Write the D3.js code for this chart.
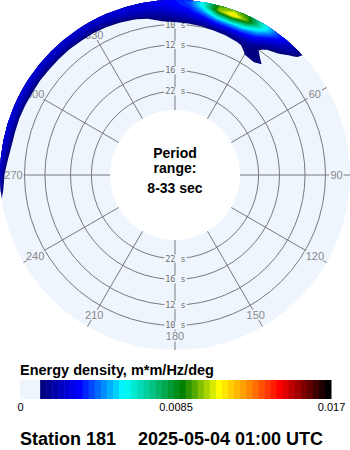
<!DOCTYPE html>
<html>
<head>
<meta charset="utf-8">
<script src="https://cdn.jsdelivr.net/npm/d3@7"></script>
<style>
  body { margin: 0; background: #fff; }
  text { font-family: "Liberation Sans", Arial, sans-serif; }
</style>
</head>
<body>
<div id="chart"></div>
<script>
// directions (deg, coming from) and frequencies (Hz) of the spectrum grid
const dirs = [250, 255, 260, 265, 270, 275, 280, 285, 290, 295, 300, 305, 310, 315, 320, 325, 330, 335,
              340, 345, 350, 355, 0, 5, 10, 15, 20, 25, 30, 35, 40, 45, 50, 55, 60];
const freqs = [0.120, 0.116, 0.112, 0.108, 0.104, 0.100, 0.096, 0.092, 0.088, 0.084];

// energy density, in 1e-4 m*m/Hz/deg, one row per frequency (same order as freqs)
const energy = [
  [0, 0, 6, 18, 24, 26, 27, 28, 28, 27, 27, 26, 26, 25, 25, 25, 25, 25, 26, 27, 28, 30, 34, 40, 65, 95, 100, 90, 66, 44, 28, 16, 2, 0, 0],
  [0, 0, 0, 5, 10, 16, 20, 21, 22, 22, 22, 22, 22, 22, 22, 22, 22, 23, 24, 25, 26, 28, 32, 38, 60, 100, 114, 96, 64, 40, 24, 14, 0, 0, 0],
  [0, 0, 0, 0, 2, 5, 9, 10, 10, 11, 12, 12, 13, 13, 13, 14, 14, 15, 17, 19, 21, 23, 28, 32, 46, 70, 78, 70, 50, 30, 18, 8, 0, 0, 0],
  [0, 0, 0, 0, 0, 0, 0, 0, 0, 1, 2, 2, 3, 3, 4, 4, 5, 6, 8, 10, 14, 17, 21, 25, 32, 44, 48, 46, 36, 21, 13, 3, 0, 0, 0],
  [0, 0, 0, 0, 0, 0, 0, 0, 0, 0, 0, 0, 0, 0, 0, 0, 0, 0, 0, 1, 5, 13, 15, 17, 21, 27, 29, 29, 26, 13, 5, 0, 0, 0, 0],
  [0, 0, 0, 0, 0, 0, 0, 0, 0, 0, 0, 0, 0, 0, 0, 0, 0, 0, 0, 0, 0, 4, 7, 8, 10, 13, 15, 17, 17, 9, 2, 0, 0, 0, 0],
  [0, 0, 0, 0, 0, 0, 0, 0, 0, 0, 0, 0, 0, 0, 0, 0, 0, 0, 0, 0, 0, 0, 0, 0, 2, 3, 5, 9, 14, 12, 4, 0, 0, 0, 0],
  [0, 0, 0, 0, 0, 0, 0, 0, 0, 0, 0, 0, 0, 0, 0, 0, 0, 0, 0, 0, 0, 0, 0, 0, 0, 0, 0, 2, 12, 14, 9, 0, 0, 0, 0],
  [0, 0, 0, 0, 0, 0, 0, 0, 0, 0, 0, 0, 0, 0, 0, 0, 0, 0, 0, 0, 0, 0, 0, 0, 0, 0, 0, 0, 9, 9, 4, 0, 0, 0, 0],
  [0, 0, 0, 0, 0, 0, 0, 0, 0, 0, 0, 0, 0, 0, 0, 0, 0, 0, 0, 0, 0, 0, 0, 0, 0, 0, 0, 0, 0, 0, 0, 0, 0, 0, 0]
];

const ringPeriods = [10, 12, 16, 22];
const dirTicks = [0, 30, 60, 90, 120, 150, 180, 210, 240, 270, 300, 330];
const colorTicks = [0, 0.0085, 0.017];
const energyMin = 0.0011;   // first colour level
const energyMax = 0.017;
const nLevels = 48;

const W = 350, H = 450, cx = 175, cy = 175, rOuter = 175, rInner = 65;
const bg = "#eef5fd", gridColor = "#7a7a7a";

const svg = d3.select("#chart").append("svg")
    .attr("width", W)
    .attr("height", H);

// radius runs with frequency, from 33 s (inside) to the outer edge
const rScale = d3.scaleLinear().domain([1 / 33, 0.12]).range([rInner, rOuter]);

function polar(r, deg) {
    const a = deg * Math.PI / 180;
    return [cx + r * Math.sin(a), cy - r * Math.cos(a)];
}

// colour map
const cmap = d3.scaleLinear()
    .domain([0, 0.127, 0.284, 0.49, 0.616, 0.73, 0.83, 1])
    .range(["#000080", "#0000ff", "#00ffff", "#008000", "#ffff00", "#ff8000", "#ff0000", "#000000"]);
const levels = d3.range(nLevels).map(i => energyMin + i * (energyMax - energyMin) / nLevels);
const levelColor = i => cmap(i / (nLevels - 1));

// base disc
svg.append("circle").attr("cx", cx).attr("cy", cy).attr("r", rOuter).attr("fill", bg);
svg.append("circle").attr("cx", cx).attr("cy", cy).attr("r", rInner).attr("fill", "#fff");

const grid = svg.append("g").attr("id", "grid");

grid.selectAll("circle.ring")
    .data(ringPeriods)
    .enter()
    .append("circle")
    .attr("class", "ring")
    .attr("cx", cx)
    .attr("cy", cy)
    .attr("r", p => rScale(1 / p))
    .attr("fill", "none")
    .attr("stroke", gridColor)
    .attr("stroke-width", 1);

grid.selectAll("line.spoke")
    .data(dirTicks)
    .enter()
    .append("line")
    .attr("class", "spoke")
    .attr("x1", d => polar(rInner, d)[0])
    .attr("y1", d => polar(rInner, d)[1])
    .attr("x2", d => polar(rOuter, d)[0])
    .attr("y2", d => polar(rOuter, d)[1])
    .attr("stroke", gridColor)
    .attr("stroke-width", 1);

// labels with a background box that breaks the grid lines
function boxedLabel(parent, x, y, txt, size, family, color) {
    const g = parent.append("g");
    const t = g.append("text")
        .attr("x", x)
        .attr("y", y)
        .attr("dy", "0.35em")
        .attr("text-anchor", "middle")
        .style("font-size", size + "px")
        .style("font-family", family)
        .attr("fill", color)
        .text(txt);
    const b = t.node().getBBox();
    g.insert("rect", "text")
        .attr("x", b.x - 1)
        .attr("y", b.y + 1)
        .attr("width", b.width + 2)
        .attr("height", b.height - 2)
        .attr("fill", bg);
}

dirTicks.forEach(d => {
    const p = polar(161.5, d);
    boxedLabel(grid, p[0], p[1], d, 11, "'Liberation Sans', Arial, sans-serif", "#888");
});

ringPeriods.forEach(p => {
    const r = rScale(1 / p);
    boxedLabel(grid, cx + 0.5, cy - r, p + " s", 8.5, "'DejaVu Sans Mono', monospace", "#6e6e6e");
    boxedLabel(grid, cx + 0.5, cy + r, p + " s", 8.5, "'DejaVu Sans Mono', monospace", "#6e6e6e");
});

// energy contours, mapped from the grid to polar coordinates
const nx = dirs.length, ny = freqs.length;
const values = [];
energy.forEach(row => row.forEach(v => values.push(v * 1e-4)));

const dirUnwrapped = dirs.map(d => d < 180 ? d + 360 : d);
const uToDeg = d3.scaleLinear().domain([0, nx - 1]).range([dirUnwrapped[0], dirUnwrapped[nx - 1]]);
const vToFreq = d3.scaleLinear().domain([0, ny - 1]).range([freqs[0], freqs[ny - 1]]);

const polarTransform = d3.geoTransform({
    point: function (u, v) {
        const p = polar(rScale(vToFreq(v - 0.5)), uToDeg(u - 0.5));
        this.stream.point(p[0], p[1]);
    }
});
const contourPath = d3.geoPath(polarTransform);

svg.append("clipPath").attr("id", "disc-clip")
    .append("circle").attr("cx", cx).attr("cy", cy).attr("r", rOuter);

const contours = d3.contours().size([nx, ny]).thresholds(levels)(values);

svg.append("g")
    .attr("id", "energy")
    .attr("clip-path", "url(#disc-clip)")
    .selectAll("path")
    .data(contours)
    .enter()
    .append("path")
    .attr("d", contourPath)
    .attr("fill", (d, i) => levelColor(i));

// centre text
const centre = svg.append("g")
    .attr("text-anchor", "middle")
    .style("font-weight", "bold")
    .style("font-size", "14px")
    .attr("fill", "#000");
centre.append("text").attr("x", cx).attr("y", 158).text("Period");
centre.append("text").attr("x", cx).attr("y", 173).text("range:");
centre.append("text").attr("x", cx).attr("y", 193).text("8-33 sec");

// colour bar
const xBar = d3.scaleLinear().domain([0, energyMax]).range([20, 331]);
const bar = svg.append("g").attr("id", "colorbar");

bar.append("text")
    .attr("x", 20)
    .attr("y", 375)
    .style("font-weight", "bold")
    .style("font-size", "14.5px")
    .text("Energy density, m*m/Hz/deg");

bar.append("rect")
    .attr("x", xBar(0))
    .attr("y", 380)
    .attr("width", xBar(levels[0]) - xBar(0))
    .attr("height", 19)
    .attr("fill", bg);

bar.selectAll("rect.step")
    .data(levels)
    .enter()
    .append("rect")
    .attr("class", "step")
    .attr("x", d => xBar(d))
    .attr("y", 380)
    .attr("width", (d, i) => xBar(i < nLevels - 1 ? levels[i + 1] : energyMax) - xBar(d) + 0.5)
    .attr("height", 19)
    .attr("fill", (d, i) => levelColor(i));

const barAxis = bar.append("g")
    .attr("transform", "translate(0,399)")
    .call(d3.axisBottom(xBar)
        .tickValues(colorTicks)
        .tickSize(0)
        .tickPadding(4)
        .tickFormat(d => d === 0 ? "0" : String(d)));
barAxis.select(".domain").remove();
barAxis.selectAll("text")
    .style("font-size", "11px")
    .style("font-family", "'Liberation Sans', Arial, sans-serif")
    .attr("fill", "#000");

// footer
svg.append("text")
    .attr("x", 20)
    .attr("y", 445)
    .style("font-weight", "bold")
    .style("font-size", "18px")
    .text("Station 181");
svg.append("text")
    .attr("x", 138)
    .attr("y", 445)
    .style("font-weight", "bold")
    .style("font-size", "18px")
    .text("2025-05-04 01:00 UTC");
</script>
</body>
</html>
